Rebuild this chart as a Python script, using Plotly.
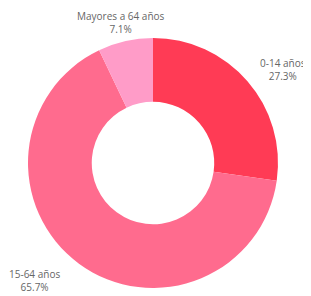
import plotly.graph_objects as go

labels = ["0-14 años", "15-64 años", "Mayores a 64 años"]
values = [27.3, 65.7, 7.1]
colors = ["#FF3B55", "#FF6B8E", "#FF9CC8"]
pct_text = ["27.3%", "65.7%", "7.1%"]

# label anchor positions (figure pixels) -- layout only
label_pos = [(275, 61), (26, 272), (112.5, 14)]

W, H = 303, 288
fig = go.Figure(go.Pie(
    labels=labels, values=values,
    hole=0.49, sort=False, direction="clockwise", rotation=0,
    marker=dict(colors=colors, line=dict(width=0)),
    textinfo="none", hoverinfo="label+percent",
    domain=dict(x=[20/W, 270/W], y=[1-280/H, 1-30/H]),
    showlegend=False,
))
for lab, pct, (px, py) in zip(labels, pct_text, label_pos):
    fig.add_annotation(
        x=px/W, y=1-py/H, xref="paper", yref="paper",
        text=f"{lab}<br>{pct}", showarrow=False,
        xanchor="center", yanchor="middle", align="center",
        font=dict(family="Open Sans", size=10, color="#666666"),
    )
fig.update_layout(
    width=W, height=H,
    margin=dict(l=0, r=0, t=0, b=0),
    paper_bgcolor="white",
)
fig.write_html("out.html")
